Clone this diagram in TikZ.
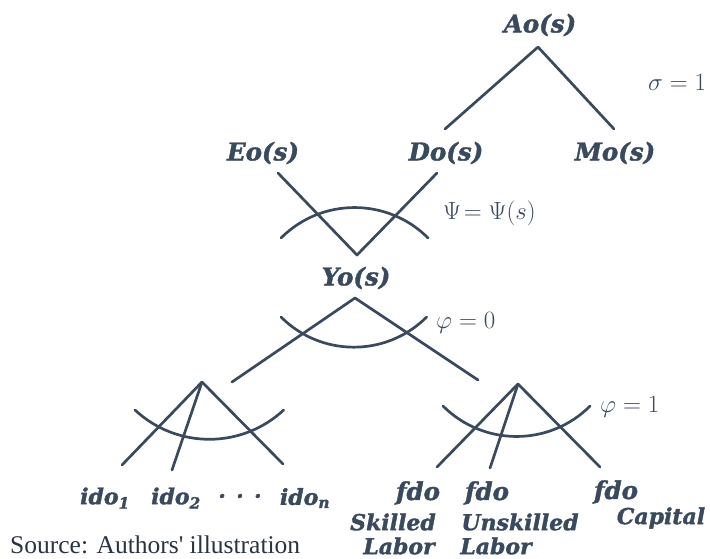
\documentclass[tikz,border=0pt]{standalone}
\usepackage{amsmath}
\usepackage{fontspec}
\newfontfamily\labelfont{DejaVu Serif}[BoldItalicFeatures={FakeBold=1.6}]
\newfontfamily\sourcefont{Liberation Serif}
\definecolor{slate}{HTML}{3A4A5E}

\begin{document}
\begin{tikzpicture}[x=1pt,y=1pt,line cap=round,line join=round,
	branch/.style={line width=2.7pt,draw=slate},
	lbl/.style={font=\labelfont\bfseries\itshape\fontsize{22}{24}\selectfont,text=slate,inner sep=0pt},
	toplbl/.style={lbl,font=\labelfont\bfseries\itshape\fontsize{24.5}{26}\selectfont},
	elas/.style={font=\fontsize{24.5}{26}\selectfont,text=slate,inner sep=0pt,anchor=west}]
	\useasboundingbox (0,0) rectangle (710,-558);

	\node [toplbl] (ao) at (540,-25) {Ao(s)};
	\node [toplbl] (eo) at (263,-153) {Eo(s)};
	\node [toplbl] (do) at (446,-153) {Do(s)};
	\node [toplbl] (mo) at (615,-153) {Mo(s)};
	\node [toplbl] (yo) at (356,-278) {Yo(s)};

	\node [elas] (sigma) at (648,-82) {$\sigma = 1$};
	\node [elas] (psi) at (443,-213) {$\Psi\!= \Psi(s)$};
	\node [elas] (phizero) at (436,-323) {$\varphi = 0$};
	\node [elas] (phione) at (600,-407) {$\varphi = 1$};

	\node [lbl] (ido1) at (105,-498) {ido\textsubscript{1}};
	\node [lbl] (ido2) at (176,-498) {ido\textsubscript{2}};
	\node [lbl] (dots) at (240,-496) {. . .};
	\node [lbl] (idon) at (305,-498) {ido\textsubscript{n}};

	\node [toplbl] (fdoskill) at (418,-493) {fdo};
	\node [toplbl] (fdounskill) at (487,-493) {fdo};
	\node [toplbl] (fdocap) at (616,-492) {fdo};
	\node [lbl] (skilled) at (393,-522) {Skilled};
	\node [lbl] (unskilled) at (520,-522) {Unskilled};
	\node [lbl] (capital) at (661,-518) {Capital};
	\node [lbl] (laborskill) at (399,-546) {Labor};
	\node [lbl] (laborunskill) at (496,-546) {Labor};

	\node [anchor=base west,inner sep=0pt,font=\sourcefont\fontsize{25.5}{27}\selectfont,text=slate!70!black] (source) at (10,-553) {Source: Authors' illustration};

	\coordinate (ao-apex) at (538,-47);
	\coordinate (do-up) at (445,-129);
	\coordinate (mo-up) at (614,-129);
	\coordinate (eo-down) at (278,-173);
	\coordinate (do-down) at (437,-173);
	\coordinate (yo-up) at (357,-255);
	\coordinate (yo-apex) at (355,-298);
	\coordinate (yo-left) at (232,-382);
	\coordinate (yo-right) at (478,-380);
	\coordinate (ido-apex) at (202,-382);
	\coordinate (ido1-up) at (122,-465);
	\coordinate (ido2-up) at (172,-470);
	\coordinate (idon-up) at (283,-464);
	\coordinate (fdo-apex) at (518,-384);
	\coordinate (skill-up) at (437,-467);
	\coordinate (unskill-up) at (490,-468);
	\coordinate (cap-up) at (600,-467);

	\draw [branch] (do-up)-- (ao-apex)-- (mo-up);
	\draw [branch] (eo-down)-- (yo-up)-- (do-down);
	\draw [branch] (yo-left)-- (yo-apex)-- (yo-right);
	\draw [branch] (ido-apex)-- (ido1-up);
	\draw [branch] (ido-apex)-- (ido2-up);
	\draw [branch] (ido-apex)-- (idon-up);
	\draw [branch] (fdo-apex)-- (skill-up);
	\draw [branch] (fdo-apex)-- (unskill-up);
	\draw [branch] (fdo-apex)-- (cap-up);

	\draw [branch] (281,-238) arc [start angle=135, end angle=45, radius=104];
	\draw [branch] (281,-317) arc [start angle=225, end angle=315, radius=103];
	\draw [branch] (135,-410) arc [start angle=227, end angle=313, radius=109];
	\draw [branch] (443,-406) arc [start angle=225, end angle=315, radius=104];
\end{tikzpicture}
\end{document}
